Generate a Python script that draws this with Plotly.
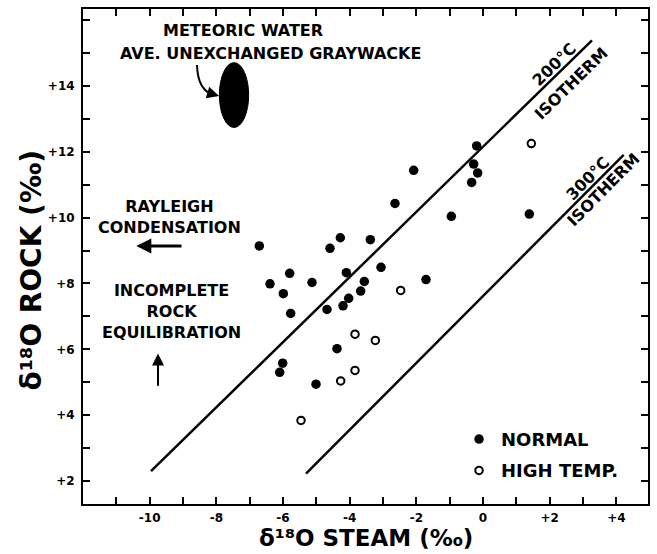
import plotly.graph_objects as go

# ---------------- data ----------------
normal_x = [-6.71, -4.28, -4.59, -3.38, -3.06, -5.80, -4.10, -1.71, -6.39, -5.13,
            -3.56, -5.99, -3.67, -4.03, -4.20, -4.68, -5.77, -4.38, -6.01, -6.10,
            -5.01, -0.19, -0.28, -0.16, -0.34, -2.08, -2.64, -0.95, 1.39]
normal_y = [9.14, 9.39, 9.07, 9.33, 8.49, 8.31, 8.33, 8.12, 7.99, 8.03,
            8.06, 7.69, 7.77, 7.55, 7.32, 7.21, 7.09, 6.02, 5.58, 5.30,
            4.94, 12.18, 11.63, 11.36, 11.07, 11.44, 10.43, 10.04, 10.11]

high_x = [-2.47, -3.84, -3.23, -3.84, -4.27, -5.46, 1.45]
high_y = [7.79, 6.46, 6.27, 5.36, 5.04, 3.84, 12.25]

iso200_x = [-9.96, 3.27]
iso200_y = [2.30, 15.39]
iso300_x = [-5.31, 4.22]
iso300_y = [2.22, 11.91]

graywacke_x = [-7.91, -7.03]   # extent of the filled ellipse
graywacke_y = [12.74, 14.71]

x_tick_vals = [-10, -8, -6, -4, -2, 0, 2, 4]
x_tick_text = ["-10", "-8", "-6", "-4", "-2", "0", "+2", "+4"]
y_tick_vals = [2, 4, 6, 8, 10, 12, 14]
y_tick_text = ["+2", "+4", "+6", "+8", "+10", "+12", "+14"]

x_range = [-12.0, 4.95]
y_range = [1.30, 16.34]

FONT = "DejaVu Sans"

fig = go.Figure()

fig.add_trace(go.Scatter(x=iso200_x, y=iso200_y, mode="lines",
                         line=dict(color="black", width=2.5),
                         showlegend=False, hoverinfo="skip"))
fig.add_trace(go.Scatter(x=iso300_x, y=iso300_y, mode="lines",
                         line=dict(color="black", width=2.5),
                         showlegend=False, hoverinfo="skip"))

fig.add_trace(go.Scatter(x=normal_x, y=normal_y, mode="markers", name="NORMAL",
                         legendgroup="a",
                         marker=dict(symbol="circle", size=9.5, color="black",
                                     line=dict(width=0))))
fig.add_trace(go.Scatter(x=high_x, y=high_y, mode="markers", name="HIGH TEMP.",
                         legendgroup="b",
                         marker=dict(symbol="circle-open", size=7.5, color="black",
                                     line=dict(width=2, color="black"))))

# ellipse (average unexchanged graywacke)
fig.add_shape(type="circle", xref="x", yref="y",
              x0=graywacke_x[0], x1=graywacke_x[1],
              y0=graywacke_y[0], y1=graywacke_y[1],
              fillcolor="black", line=dict(color="black", width=1))

# curved arrow towards the ellipse
fig.add_shape(type="path", xref="x", yref="y",
              path="M -8.58,14.64 Q -8.56,13.85 -8.05,13.72",
              line=dict(color="black", width=2))

tfont = dict(family=FONT, size=16, color="black", weight="bold")

annos = [
    dict(x=-7.21, y=15.70, text="METEORIC WATER"),
    dict(x=-6.39, y=14.99, text="AVE. UNEXCHANGED GRAYWACKE"),
    dict(x=-9.40, y=10.035, text="RAYLEIGH<br>CONDENSATION"),
    dict(x=-9.36, y=7.16, text="INCOMPLETE<br>ROCK<br>EQUILIBRATION"),
]
for a in annos:
    fig.add_annotation(x=a["x"], y=a["y"], xref="x", yref="y", text=a["text"],
                       showarrow=False, font=tfont, align="center",
                       xanchor="center", yanchor="middle")

rfont = dict(family=FONT, size=16, color="black", weight="bold")
for (x, y, t, ang) in [(2.14, 14.64, "200°C", -44.4), (2.65, 14.07, "ISOTHERM", -44.4),
                       (3.14, 11.20, "300°C", -45.2), (3.62, 10.86, "ISOTHERM", -45.2)]:
    fig.add_annotation(x=x, y=y, xref="x", yref="y", text=t, showarrow=False,
                       font=rfont, textangle=ang, xanchor="center", yanchor="middle")

# arrows
fig.add_annotation(x=-7.92, y=13.70, ax=-8.12, ay=13.76, xref="x", yref="y",
                   axref="x", ayref="y", text="", showarrow=True,
                   arrowhead=2, arrowsize=1.2, arrowwidth=2, arrowcolor="black")
fig.add_annotation(x=-10.40, y=9.14, ax=-9.0, ay=9.14, xref="x", yref="y",
                   axref="x", ayref="y", text="", showarrow=True,
                   arrowhead=2, arrowsize=1, arrowwidth=3, arrowcolor="black")
fig.add_annotation(x=-9.75, y=5.875, ax=-9.75, ay=4.85, xref="x", yref="y",
                   axref="x", ayref="y", text="", showarrow=True,
                   arrowhead=2, arrowsize=1.2, arrowwidth=2, arrowcolor="black")

# axis titles
fig.add_annotation(x=0.5, y=-0.0986, xref="paper", yref="paper",
                   text="δ¹⁸O STEAM (‰)", showarrow=False,
                   font=dict(family=FONT, size=23, color="black", weight="bold"),
                   xanchor="center", yanchor="bottom")
fig.add_annotation(x=-0.091, y=8.41, xref="paper", yref="y",
                   text="δ¹⁸O ROCK (‰)", showarrow=False,
                   font=dict(family=FONT, size=28, color="black", weight="bold"),
                   textangle=-90, xanchor="center", yanchor="middle")

tick_font = dict(family=FONT, size=12, color="black", weight="bold")
axis_common = dict(showline=True, linecolor="black", linewidth=2, mirror="ticks",
                   ticks="inside", ticklen=7, tickwidth=2, tickcolor="black",
                   showgrid=False, zeroline=False, tickfont=tick_font,
                   minor=dict(ticks="inside", dtick=1, ticklen=7, tickwidth=2,
                              tickcolor="black", showgrid=False))

fig.update_xaxes(range=x_range, tickmode="array", tickvals=x_tick_vals,
                 ticktext=x_tick_text, ticklabelstandoff=2,
                 **axis_common)
fig.update_yaxes(range=y_range, tickmode="array", tickvals=y_tick_vals,
                 ticktext=y_tick_text, ticklabelstandoff=4,
                 **axis_common)

fig.update_layout(
    width=657, height=554, autosize=False,
    margin=dict(l=83, r=9, t=7, b=50, pad=0),
    paper_bgcolor="white", plot_bgcolor="white",
    showlegend=True,
    legend=dict(x=0.662, y=0.168, xanchor="left", yanchor="top",
                font=dict(family=FONT, size=18, color="black", weight="bold"),
                bgcolor="rgba(0,0,0,0)", borderwidth=0, itemwidth=34,
                traceorder="grouped", tracegroupgap=5),
)

fig.write_html("out.html", config={"displayModeBar": False},
               post_script="document.body.style.margin='0';")
